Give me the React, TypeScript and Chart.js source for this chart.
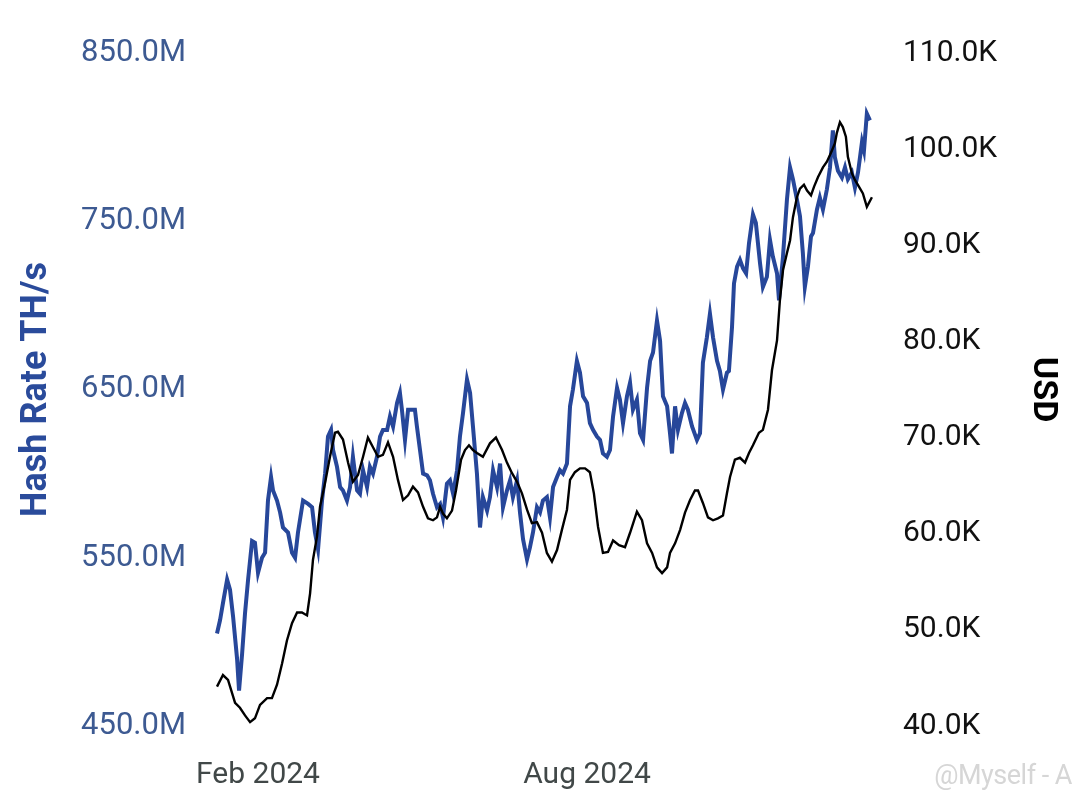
import React, { useEffect, useRef } from "react";
import { Chart, registerables } from "chart.js";

Chart.register(...registerables);

// x values are days since 1 Jan 2024
const hashDays = [
  8.3, 10.0, 11.6, 13.9, 15.5, 17.2, 19.4, 20.5, 22.2, 23.8,
  25.5, 27.7, 29.3, 31.0, 33.2, 34.9, 36.5, 38.2, 39.3, 41.5,
  43.2, 44.8, 47.6, 49.8, 51.5, 53.1, 55.9, 58.7, 60.9, 62.5,
  64.2, 66.4, 68.1, 69.7, 71.4, 72.5, 74.7, 76.4, 78.0, 80.2,
  81.9, 83.5, 85.8, 87.4, 89.1, 91.3, 92.9, 94.6, 96.8, 98.5,
  100.1, 102.4, 104.0, 105.7, 107.9, 109.5, 110.6, 112.3, 114.0, 116.2,
  117.8, 118.9, 120.6, 122.3, 124.5, 126.1, 127.8, 130.0, 131.7, 133.3,
  135.5, 137.2, 138.9, 141.1, 142.7, 144.4, 146.6, 148.3, 149.9, 152.1,
  153.8, 155.4, 157.7, 159.3, 161.0, 163.2, 164.9, 166.5, 168.7, 170.4,
  172.0, 174.3, 175.9, 177.6, 179.8, 181.4, 183.1, 185.3, 187.0, 188.6,
  190.8, 192.5, 194.2, 196.4, 198.0, 199.7, 201.9, 203.6, 205.2, 207.4,
  209.1, 210.8, 213.0, 214.6, 216.3, 218.5, 220.2, 221.8, 224.0, 225.7,
  227.4, 229.6, 231.2, 232.9, 235.1, 236.8, 238.4, 240.6, 242.3, 244.0,
  246.2, 247.9, 249.5, 251.7, 253.4, 255.0, 257.3, 258.9, 260.0, 261.7,
  263.3, 265.5, 267.2, 268.8, 271.1, 273.8, 275.5, 277.1, 279.3, 281.0,
  282.7, 284.9, 286.5, 288.2, 290.4, 291.5, 293.2, 294.3, 296.0, 297.6,
  299.3, 301.0, 302.6, 304.8, 306.4, 308.7, 310.3, 312.5, 314.2, 315.8,
  318.1, 319.2, 321.4, 323.6, 325.3, 326.9, 329.1, 330.8, 332.4, 333.5,
  335.2, 336.9, 338.0, 340.2, 341.8, 343.5, 345.7, 347.4, 349.0, 350.1,
  351.8, 354.0, 355.7, 357.3, 359.5, 361.2, 362.9, 365.1, 366.2, 367.8,
  369.5,
];

// Hash rate in millions of TH/s
const hashValues = [
  505, 513, 523, 537, 531, 515, 490, 471, 493, 517,
  537, 560, 559, 541, 550, 553, 584, 598, 590, 584,
  577, 568, 565, 553, 550, 565, 584, 582, 580, 565,
  555, 584, 600, 622, 626, 614, 604, 592, 590, 584,
  592, 610, 590, 588, 602, 592, 604, 600, 610, 622,
  626, 626, 634, 628, 642, 648, 638, 620, 638, 638,
  638, 628, 614, 600, 599, 596, 588, 580, 582, 574,
  594, 596, 588, 602, 622, 636, 656, 648, 628, 600,
  568, 586, 578, 586, 602, 592, 606, 580, 590, 596,
  586, 596, 577, 561, 549, 556, 565, 580, 577, 584,
  586, 574, 592, 598, 602, 600, 606, 640, 650, 667,
  660, 646, 642, 630, 626, 622, 620, 612, 610, 614,
  634, 651, 644, 630, 646, 654, 638, 644, 624, 620,
  651, 667, 672, 691, 679, 646, 640, 624, 612, 640,
  626, 636, 642, 638, 628, 620, 624, 666, 681, 695,
  681, 667, 661, 650, 660, 661, 687, 713, 723, 727,
  722, 719, 737, 754, 749, 725, 711, 717, 739, 729,
  719, 703, 729, 763, 782, 775, 763, 753, 731, 711,
  723, 741, 743, 757, 764, 757, 769, 782, 804, 788,
  780, 776, 782, 775, 779, 770, 779, 797, 792, 814,
  810,
];

const priceDays = [
  8.3, 11.6, 14.4, 18.3, 21.0, 23.8, 26.6, 29.3, 32.1, 36.0,
  38.7, 41.5, 44.3, 47.0, 49.8, 52.6, 55.3, 58.1, 59.8, 61.4,
  63.6, 65.3, 68.1, 70.8, 73.6, 75.2, 78.0, 80.8, 83.5, 86.3,
  89.1, 91.8, 94.6, 97.4, 100.1, 102.9, 105.7, 108.4, 111.2, 114.0,
  116.7, 119.5, 122.3, 125.0, 127.8, 130.0, 131.7, 133.3, 135.5, 138.3,
  140.5, 143.3, 145.5, 147.7, 149.9, 152.1, 155.4, 159.3, 162.6, 166.0,
  168.7, 171.5, 174.3, 177.0, 179.8, 182.5, 185.3, 188.1, 190.8, 193.6,
  196.4, 199.1, 201.9, 203.6, 206.3, 209.1, 211.9, 214.6, 216.8, 219.1,
  221.8, 224.6, 227.4, 230.7, 234.0, 236.8, 240.6, 243.4, 246.2, 249.0,
  251.7, 254.5, 257.3, 258.9, 261.7, 264.5, 267.2, 270.0, 272.7, 274.4,
  277.1, 279.9, 282.7, 285.4, 288.2, 290.4, 292.1, 294.8, 297.6, 300.4,
  302.6, 304.8, 308.1, 310.3, 313.1, 315.3, 318.1, 319.7, 321.4, 323.6,
  325.3, 326.9, 329.1, 330.8, 333.0, 334.7, 336.9, 338.6, 340.8, 343.5,
  345.7, 347.9, 350.1, 351.2, 352.9, 354.5, 356.2, 357.3, 359.5, 361.2,
  363.4, 365.6, 367.8, 370.6,
];

// BTC price in thousands of USD
const priceValues = [
  44.1, 45.3, 44.8, 42.4, 41.9, 41.1, 40.4, 40.8, 42.2, 42.9,
  42.9, 44.3, 46.5, 48.9, 50.7, 51.8, 51.8, 51.5, 53.8, 57.3,
  59.7, 62.8, 65.3, 68.0, 70.5, 70.6, 69.8, 67.4, 65.4, 66.1,
  68.0, 70.0, 69.0, 68.0, 68.2, 69.5, 68.0, 65.6, 63.5, 64.0,
  64.9, 64.3, 62.8, 61.6, 61.4, 61.7, 62.8, 62.1, 61.6, 62.4,
  64.5, 67.7, 68.7, 69.2, 68.7, 68.4, 68.0, 69.4, 70.0, 68.7,
  67.4, 66.3, 65.4, 64.2, 62.5, 61.1, 61.2, 60.1, 58.0, 57.1,
  58.3, 60.4, 62.5, 65.6, 66.4, 66.8, 66.8, 66.4, 64.2, 60.7,
  58.0, 58.1, 59.3, 58.8, 58.6, 60.1, 62.3, 61.4, 59.0, 58.0,
  56.5, 55.9, 56.5, 58.0, 59.0, 60.4, 62.2, 63.5, 64.5, 64.5,
  63.2, 61.7, 61.4, 61.6, 61.9, 64.2, 65.9, 67.7, 67.9, 67.4,
  68.4, 69.2, 70.5, 70.8, 72.9, 77.0, 80.1, 84.3, 87.4, 89.2,
  90.5, 92.9, 95.0, 95.9, 96.3, 95.7, 95.2, 96.1, 97.1, 98.1,
  98.7, 99.6, 100.6, 101.7, 102.8, 102.3, 101.3, 99.2, 97.5, 96.8,
  96.1, 95.4, 94.0, 95.0,
];

const xTickDays = [31, 213];
const xTickLabels = ["Feb 2024", "Aug 2024"];
const hashTicks = [450, 550, 650, 750, 850];
const priceTicks = [40, 50, 60, 70, 80, 90, 100, 110];

const BLUE = "#27479a";
const FONT = "Roboto, 'Noto Sans', sans-serif";

export default function App() {
  const ref = useRef<HTMLCanvasElement>(null);

  useEffect(() => {
    if (!ref.current) return;
    const chart = new Chart(ref.current, {
      type: "line",
      data: {
        datasets: [
          {
            label: "BTC Price (USD)",
            data: priceDays.map((d, i) => ({ x: d, y: priceValues[i] })),
            yAxisID: "yPrice",
            borderColor: "#000000",
            borderWidth: 2.4,
            pointRadius: 0,
            tension: 0,
            order: 0,
          },
          {
            label: "Hash Rate TH/s",
            data: hashDays.map((d, i) => ({ x: d, y: hashValues[i] })),
            yAxisID: "yHash",
            borderColor: BLUE,
            borderWidth: 4,
            pointRadius: 0,
            tension: 0,
            order: 1,
          },
        ],
      },
      options: {
        responsive: false,
        animation: false,
        layout: { padding: { top: 53, left: 0, right: 0, bottom: 0 } },
        plugins: { legend: { display: false }, tooltip: { enabled: false } },
        scales: {
          x: {
            type: "linear",
            min: -1.1,
            max: 380.6,
            grid: { display: false, drawTicks: false },
            border: { display: false },
            afterBuildTicks: (axis: any) => {
              axis.ticks = xTickDays.map((v) => ({ value: v }));
            },
            afterFit: (axis: any) => {
              axis.height = 78;
            },
            ticks: {
              autoSkip: false,
              maxRotation: 0,
              padding: 31,
              color: "#414848",
              font: { family: FONT, size: 30 },
              callback: (v: any) => {
                const i = xTickDays.indexOf(Number(v));
                return i >= 0 ? xTickLabels[i] : "";
              },
            },
          },
          yHash: {
            type: "linear",
            position: "left",
            min: 450,
            max: 850,
            grid: { display: false, drawTicks: false },
            border: { display: false },
            afterBuildTicks: (axis: any) => {
              axis.ticks = hashTicks.map((v) => ({ value: v }));
            },
            afterFit: (axis: any) => {
              axis.width = 200;
            },
            ticks: {
              padding: 14,
              color: "#3d5a92",
              font: { family: FONT, size: 31 },
              callback: (v: any) => Number(v).toFixed(1) + "M",
            },
            title: {
              display: true,
              text: "Hash Rate TH/s",
              color: "#2a4b9b",
              font: { family: FONT, size: 36, weight: "bold" },
              padding: { top: 15, bottom: 0 },
            },
          },
          yPrice: {
            type: "linear",
            position: "right",
            min: 40,
            max: 110,
            grid: { display: false, drawTicks: false },
            border: { display: false },
            afterBuildTicks: (axis: any) => {
              axis.ticks = priceTicks.map((v) => ({ value: v }));
            },
            afterFit: (axis: any) => {
              axis.width = 190;
            },
            ticks: {
              padding: 13,
              color: "#111111",
              font: { family: FONT, size: 30 },
              callback: (v: any) => Number(v).toFixed(1) + "K",
            },
            title: {
              display: true,
              text: "USD",
              color: "#000000",
              font: { family: FONT, size: 34, weight: "bold" },
              padding: { top: 17, bottom: 0 },
            },
          },
        },
      },
    });
    return () => chart.destroy();
  }, []);

  return (
    <div
      style={{
        position: "fixed",
        left: 0,
        top: 0,
        width: 1080,
        height: 804,
        background: "#ffffff",
        overflow: "hidden",
      }}
    >
      <canvas ref={ref} width={1080} height={804} style={{ width: 1080, height: 804, display: "block" }} />
      <span
        style={{
          position: "absolute",
          right: 8,
          top: 760,
          fontFamily: FONT,
          fontSize: 27,
          lineHeight: "30px",
          color: "#d6d6d6",
          letterSpacing: "-0.5px",
          whiteSpace: "nowrap",
        }}
      >
        @Myself - A
      </span>
    </div>
  );
}
